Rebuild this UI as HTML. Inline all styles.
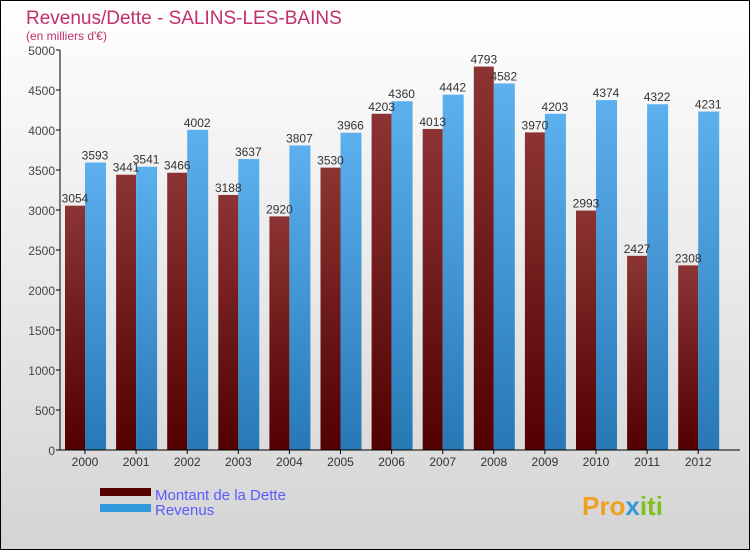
<!DOCTYPE html>
<html><head><meta charset="utf-8">
<style>
html,body{margin:0;padding:0}
body{width:750px;height:550px;overflow:hidden;font-family:"Liberation Sans",sans-serif}
</style></head>
<body>
<svg id="chart" width="750" height="550" xmlns="http://www.w3.org/2000/svg">
<defs>
<linearGradient id="bg" x1="0" y1="0" x2="0" y2="1"><stop offset="0" stop-color="#ffffff"/><stop offset="1" stop-color="#d4d4d4"/></linearGradient>
<linearGradient id="gd" x1="0" y1="0" x2="0" y2="1"><stop offset="0" stop-color="#8c3434"/><stop offset="1" stop-color="#520000"/></linearGradient>
<linearGradient id="gr" x1="0" y1="0" x2="0" y2="1"><stop offset="0" stop-color="#5cb0ee"/><stop offset="1" stop-color="#2878b6"/></linearGradient>
</defs>
<rect x="0.5" y="0.5" width="749" height="549" fill="url(#bg)" stroke="#000"/>
<text x="26" y="24" font-size="19" fill="#c0306a">Revenus/Dette - SALINS-LES-BAINS</text>
<text x="26" y="40" font-size="12" fill="#c0306a">(en milliers d'€)</text>
<g id="plot"></g>
<g>
<rect x="100" y="488" width="51" height="8" fill="#560000"/>
<text x="155" y="500" font-size="15" fill="#5a5aff">Montant de la Dette</text>
<rect x="100" y="504" width="51" height="8" fill="#3399dd"/>
<text x="155" y="515" font-size="15" fill="#5a5aff">Revenus</text>
</g>
<text x="582" y="515" font-size="26" font-weight="bold" fill="#f0a020">Pro<tspan fill="#3399dd">x</tspan><tspan fill="#80c020">iti</tspan></text>
</svg>
<script>
const years=["2000","2001","2002","2003","2004","2005","2006","2007","2008","2009","2010","2011","2012"];
const dette=[3054,3441,3466,3188,2920,3530,4203,4013,4793,3970,2993,2427,2308];
const revenus=[3593,3541,4002,3637,3807,3966,4360,4442,4582,4203,4374,4322,4231];
const ticks=[0,500,1000,1500,2000,2500,3000,3500,4000,4500,5000];
const NS="http://www.w3.org/2000/svg";
const g=document.getElementById("plot");
const y0=450,yTop=50,vmax=5000,xL=60;
const yS=v=>y0-(v/vmax)*(y0-yTop);
const xS=i=>85+i*51.1;
function mk(t,a){const e=document.createElementNS(NS,t);for(const k in a)e.setAttribute(k,a[k]);g.appendChild(e);return e;}
ticks.forEach(t=>{
 const l=mk("line",{x1:xL-4,x2:xL,y1:yS(t),y2:yS(t),stroke:"#000"});
 
 
 const tx=mk("text",{x:xL-5,y:yS(t)+5,"text-anchor":"end","font-size":"12",fill:"#444"});
 tx.textContent=t;
 
 
});
years.forEach((yr,i)=>{
 const cx=xS(i);
 const b1=mk("rect",{x:cx-20,y:yS(dette[i]),width:20,height:y0-yS(dette[i]),fill:"url(#gd)"});
 
 
 const b2=mk("rect",{x:cx,y:yS(revenus[i]),width:21,height:y0-yS(revenus[i]),fill:"url(#gr)"});
 
 
 const l1=mk("text",{x:cx-10,y:yS(dette[i])-3,"text-anchor":"middle","font-size":"12",fill:"#333"});
 l1.textContent=dette[i];
 
 
 const l2=mk("text",{x:cx+10,y:yS(revenus[i])-3,"text-anchor":"middle","font-size":"12",fill:"#333"});
 l2.textContent=revenus[i];
 
 
 const tk=mk("line",{x1:cx,x2:cx,y1:y0,y2:y0+4,stroke:"#000"});
 
 
 const xl=mk("text",{x:cx,y:y0+16,"text-anchor":"middle","font-size":"12",fill:"#333"});
 xl.textContent=yr;
 
 
});
const ya=mk("line",{x1:xL,x2:xL,y1:yTop,y2:y0,stroke:"#000"});


const xa=mk("line",{x1:xL,x2:740,y1:y0,y2:y0,stroke:"#000"});


</script>
</body></html>
